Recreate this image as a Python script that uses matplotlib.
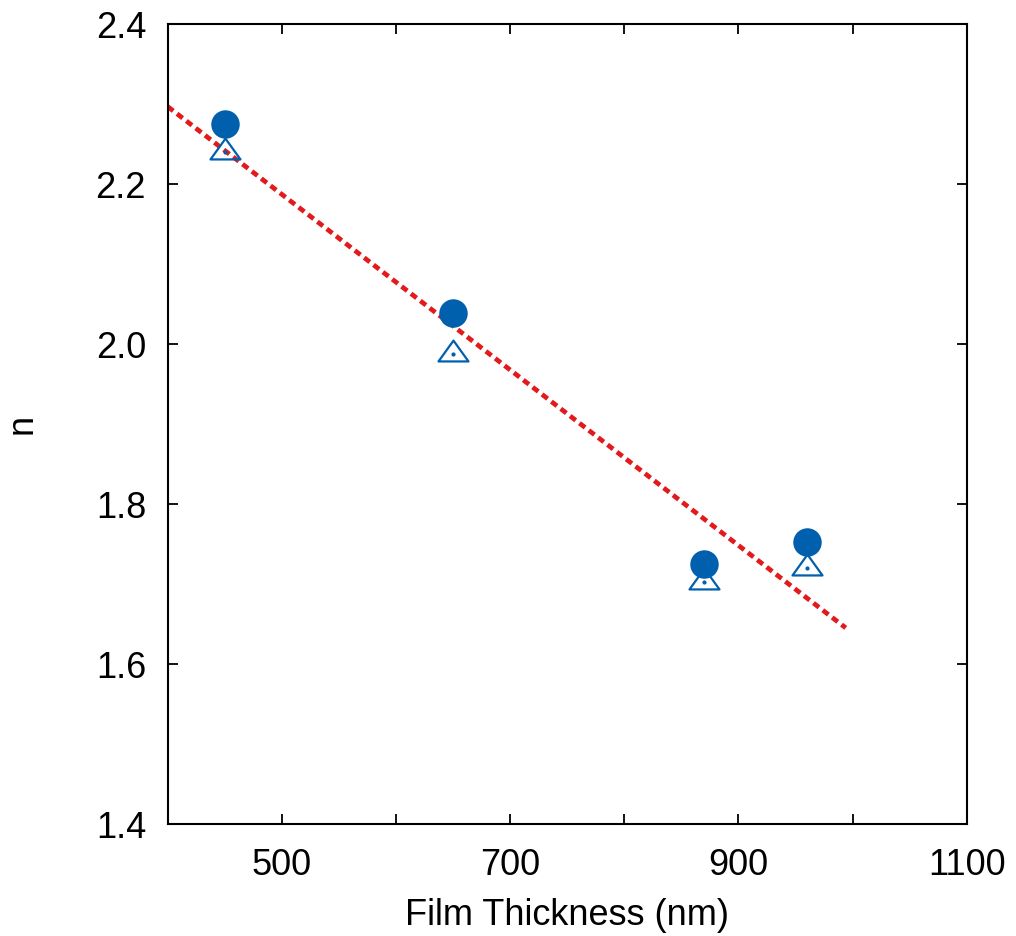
'''
Refractive index vs. film thickness with linear fit
'''

import numpy as np
import matplotlib
matplotlib.use('Agg')
import matplotlib.pyplot as plt
from matplotlib.path import Path

plt.rcParams['font.family'] = ['Liberation Sans', 'DejaVu Sans']

# measured data
thickness = [450, 650, 870, 960]
n_circle = [2.276, 2.039, 1.726, 1.753]
n_triangle = [2.241, 1.988, 1.703, 1.721]

# linear fit n = a + b*t over the fitted range
fit_a = 2.736
fit_b = -0.001097
fit_range = [400, 994]

xticks = [500, 700, 900, 1100]
yticks = [1.4, 1.6, 1.8, 2.0, 2.2, 2.4]

blue = '#0060ad'
red = '#e31a1c'

# triangle with its centroid at the origin
tri = Path([(0, 2/3.), (-0.72, -1/3.), (0.72, -1/3.), (0, 2/3.)],
           [Path.MOVETO, Path.LINETO, Path.LINETO, Path.CLOSEPOLY])

fig = plt.figure(figsize=(10.16, 9.36), dpi=100)
ax = fig.add_axes([0.165, 0.1193, 0.7865, 0.8547])

fx = np.array(fit_range)
ax.plot(fx, fit_a + fit_b*fx, color=red, lw=3.4, ls=(0, (1.5, 1.0)), zorder=1)

ax.plot(thickness, n_triangle, ls='none', marker=tri, ms=21.6, mfc='none',
        mec=blue, mew=1.6, zorder=2)
ax.plot(thickness, n_triangle, ls='none', marker='o', ms=2, color=blue, zorder=2)
ax.plot(thickness, n_circle, ls='none', marker='o', ms=20.5, color=blue, mec='none', zorder=3)

ax.set_xlim(400, 1100)
ax.set_ylim(1.4, 2.4)
ax.set_xticks(xticks)
ax.set_xticks(range(400, 1101, 100), minor=True)
ax.set_yticks(yticks)
ax.set_yticklabels(['%.1f' % v for v in yticks])

ax.tick_params(which='both', direction='in', top=True, right=True,
               length=7, width=1.3, labelsize=26)
ax.tick_params(axis='x', pad=17)
ax.tick_params(axis='y', pad=15.5)
ax.tick_params(which='minor', labelbottom=False)
for s in ax.spines.values():
    s.set_linewidth(1.5)

ax.set_xlabel('Film Thickness (nm)', fontsize=26, labelpad=11)
ax.set_ylabel('n', fontsize=26, labelpad=40)

fig.savefig('out.png', dpi=100)
